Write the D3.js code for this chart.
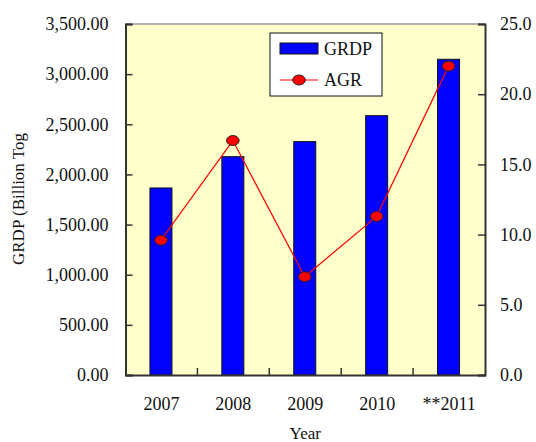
<!DOCTYPE html>
<html>
<head>
<meta charset="utf-8">
<script src="https://cdn.jsdelivr.net/npm/d3@7"></script>
<style>
  body { margin: 0; background: #fff; }
  svg text { font-family: "Liberation Serif", "Times New Roman", "DejaVu Serif", serif; fill: #111; }
</style>
</head>
<body>
<svg width="536" height="442"></svg>
<script>
let years = ["2007", "2008", "2009", "2010", "**2011"];
let grdp = [1865, 2177, 2327, 2586, 3148];
let agr = [9.6, 16.7, 7.0, 11.3, 22.0];
let leftTicks = [0, 500, 1000, 1500, 2000, 2500, 3000, 3500];
let rightTicks = [0, 5, 10, 15, 20, 25];

let police = '"Liberation Serif", "Times New Roman", "DejaVu Serif", serif';
let svg = d3.select("svg");
let gauche = 125.5, droite = 485, haut = 24, bas = 375;

let x = d3.scaleBand().domain(years).range([gauche, droite]);
let y = d3.scaleLinear().domain([0, 3500]).range([bas, haut]);
let y2 = d3.scaleLinear().domain([0, 25]).range([bas, haut]);

// fond
svg.append("rect")
    .attr("x", gauche).attr("y", haut)
    .attr("width", droite - gauche).attr("height", bas - haut)
    .style("fill", "#ffffcc");

// bordure du haut grise
svg.append("line")
    .attr("x1", gauche).attr("x2", droite).attr("y1", haut).attr("y2", haut)
    .style("stroke", "#999").style("stroke-width", 1.5);

// barres
let bw = 22;
svg.selectAll("rect.bar")
    .data(grdp)
    .enter()
    .append("rect")
    .attr("class", "bar")
    .attr("x", (d, i) => x(years[i]) + x.bandwidth() / 2 - bw / 2 - 0.5)
    .attr("y", d => y(d))
    .attr("width", bw)
    .attr("height", d => bas - y(d))
    .style("fill", "#0000ff")
    .style("stroke", "#111")
    .style("stroke-width", 1);

// axes
let axeG = svg.append("g")
    .attr("transform", `translate(${gauche},0)`)
    .call(d3.axisLeft(y).tickValues(leftTicks).tickSize(-7).tickPadding(17)
        .tickFormat(d3.format(",.2f")));
let axeD = svg.append("g")
    .attr("transform", `translate(${droite},0)`)
    .call(d3.axisRight(y2).tickValues(rightTicks).tickSize(-7).tickPadding(15)
        .tickFormat(d3.format(".1f")));
let axeB = svg.append("g")
    .attr("transform", `translate(0,${bas})`)
    .call(d3.axisBottom(x).tickSize(0).tickPadding(22));

[axeG, axeD, axeB].forEach(function (g) {
    g.attr("font-family", null).attr("font-size", null);
    g.select(".domain").style("stroke", "#333").style("stroke-width", 2);
    g.selectAll(".tick line").style("stroke", "#333").style("stroke-width", 1.5);
    g.selectAll("text").style("font-size", "18px").style("font-family", police).style("fill", "#111");
});

// petits traits entre categories
svg.selectAll("line.sep")
    .data(years.slice(1))
    .enter()
    .append("line")
    .attr("class", "sep")
    .attr("x1", d => x(d)).attr("x2", d => x(d))
    .attr("y1", bas).attr("y2", bas - 7)
    .style("stroke", "#333").style("stroke-width", 1.5);

// ligne AGR
let ligne = d3.line()
    .x((d, i) => x(years[i]) + x.bandwidth() / 2 - 0.5)
    .y(d => y2(d));
svg.append("path")
    .datum(agr)
    .attr("d", ligne)
    .style("fill", "none")
    .style("stroke", "red")
    .style("stroke-width", 1.2);
svg.selectAll("ellipse.pt")
    .data(agr)
    .enter()
    .append("ellipse")
    .attr("class", "pt")
    .attr("cx", (d, i) => x(years[i]) + x.bandwidth() / 2 - 0.5)
    .attr("cy", d => y2(d))
    .attr("rx", 6.3).attr("ry", 5)
    .style("fill", "red")
    .style("stroke", "#222")
    .style("stroke-width", 1);

// titres
svg.append("text")
    .attr("transform", "translate(24,199) rotate(-90)")
    .attr("text-anchor", "middle")
    .style("font-size", "17px")
    .text("GRDP (Billion Tog");
svg.append("text")
    .attr("x", (gauche + droite) / 2).attr("y", 439)
    .attr("text-anchor", "middle")
    .style("font-size", "17px")
    .text("Year");

// legende
let leg = svg.append("g");
leg.append("rect")
    .attr("x", 270).attr("y", 33).attr("width", 112).attr("height", 63)
    .style("fill", "#fff").style("stroke", "#111");
leg.append("rect")
    .attr("x", 280).attr("y", 43).attr("width", 38).attr("height", 11)
    .style("fill", "#0000ff").style("stroke", "#111");
leg.append("text").attr("x", 324).attr("y", 55).style("font-size", "18px").text("GRDP");
leg.append("line")
    .attr("x1", 280).attr("x2", 318).attr("y1", 80).attr("y2", 80)
    .style("stroke", "red").style("stroke-width", 1.2);
leg.append("ellipse")
    .attr("cx", 299).attr("cy", 80).attr("rx", 6.3).attr("ry", 5)
    .style("fill", "red").style("stroke", "#222");
leg.append("text").attr("x", 324).attr("y", 86).style("font-size", "18px").text("AGR");
</script>
</body>
</html>
